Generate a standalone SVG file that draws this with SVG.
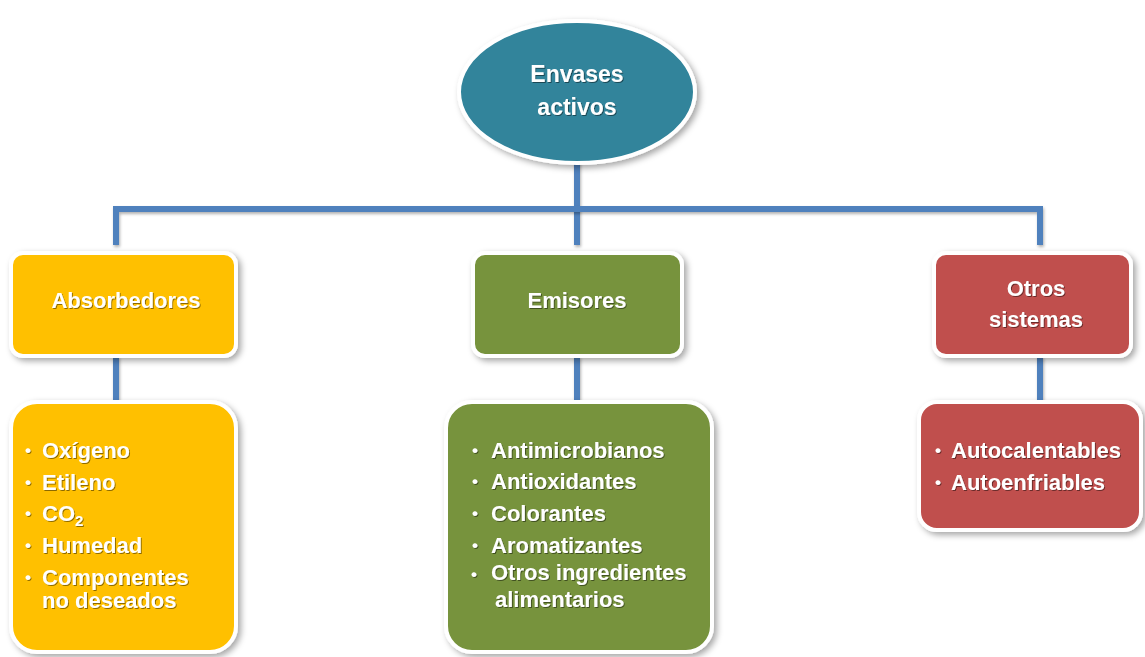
<svg xmlns="http://www.w3.org/2000/svg" width="1145" height="657" viewBox="0 0 1145 657">
<defs>
<filter id="sh" x="-10%" y="-10%" width="125%" height="125%">
<feDropShadow dx="3" dy="3" stdDeviation="3" flood-color="#000" flood-opacity="0.35"/>
</filter>
<filter id="ts" x="-5%" y="-20%" width="110%" height="150%">
<feDropShadow dx="1" dy="1" stdDeviation="0.7" flood-color="#000" flood-opacity="0.45"/>
</filter>
<filter id="ls" filterUnits="userSpaceOnUse" x="0" y="0" width="1145" height="657">
<feDropShadow dx="1" dy="2" stdDeviation="1.5" flood-color="#000" flood-opacity="0.3"/>
</filter>
</defs>
<style>
.box{stroke:#fff;stroke-width:4;filter:url(#sh)}
.t{font-family:"Liberation Sans",Arial,sans-serif;font-weight:bold;font-size:22px;fill:#fff;filter:url(#ts)}
.c{text-anchor:middle}
.b{font-size:17px}
.conn{stroke:#4F81BD;stroke-width:6;fill:none;filter:url(#ls)}
</style>
<rect width="1145" height="657" fill="#fff"/>
<g id="connectors">
<path class="conn" d="M577 160 V245"/>
<path class="conn" d="M116 245 V209 H1040 V245"/>
<path class="conn" d="M116 356 V403"/>
<path class="conn" d="M577 356 V403"/>
<path class="conn" d="M1040 356 V403"/>
</g>
<g id="root">
<ellipse class="box" cx="577" cy="92" rx="118" ry="71" fill="#31849B"/>
<text class="t c" x="577" y="82" style="font-size:23px">Envases</text>
<text class="t c" x="577" y="115" style="font-size:23px">activos</text>
</g>
<g id="absorbedores">
<rect class="box" x="11" y="253" width="225" height="103" rx="12" fill="#FFC000"/>
<text class="t c" x="126" y="308">Absorbedores</text>
</g>
<g id="emisores">
<rect class="box" x="473" y="253" width="209" height="103" rx="12" fill="#77933C"/>
<text class="t c" x="577" y="308">Emisores</text>
</g>
<g id="otros">
<rect class="box" x="934" y="253" width="197" height="103" rx="12" fill="#C0504D"/>
<text class="t c" x="1036" y="296">Otros</text>
<text class="t c" x="1036" y="327">sistemas</text>
</g>
<g id="absorbedores-list">
<rect class="box" x="11" y="402" width="225" height="250" rx="26" fill="#FFC000"/>
<g class="t">
<text class="b" x="25" y="456">•</text><text x="42" y="458">Oxígeno</text>
<text class="b" x="25" y="488">•</text><text x="42" y="490">Etileno</text>
<text class="b" x="25" y="519">•</text><text x="42" y="521">CO<tspan font-size="15" dy="5">2</tspan></text>
<text class="b" x="25" y="551">•</text><text x="42" y="553">Humedad</text>
<text class="b" x="25" y="583">•</text><text x="42" y="585">Componentes</text>
<text x="42" y="608">no deseados</text>
</g>
</g>
<g id="emisores-list">
<rect class="box" x="446" y="402" width="266" height="250" rx="26" fill="#77933C"/>
<g class="t">
<text class="b" x="472" y="456">•</text><text x="491" y="458">Antimicrobianos</text>
<text class="b" x="472" y="487">•</text><text x="491" y="489">Antioxidantes</text>
<text class="b" x="472" y="519">•</text><text x="491" y="521">Colorantes</text>
<text class="b" x="472" y="551">•</text><text x="491" y="553">Aromatizantes</text>
<text class="b" x="471" y="580">•</text><text x="491" y="580">Otros ingredientes</text>
<text x="495" y="607">alimentarios</text>
</g>
</g>
<g id="otros-list">
<rect class="box" x="919" y="402" width="222" height="128" rx="18" fill="#C0504D"/>
<g class="t">
<text class="b" x="935" y="456">•</text><text x="951" y="458">Autocalentables</text>
<text class="b" x="935" y="488">•</text><text x="951" y="490">Autoenfriables</text>
</g>
</g>
</svg>
